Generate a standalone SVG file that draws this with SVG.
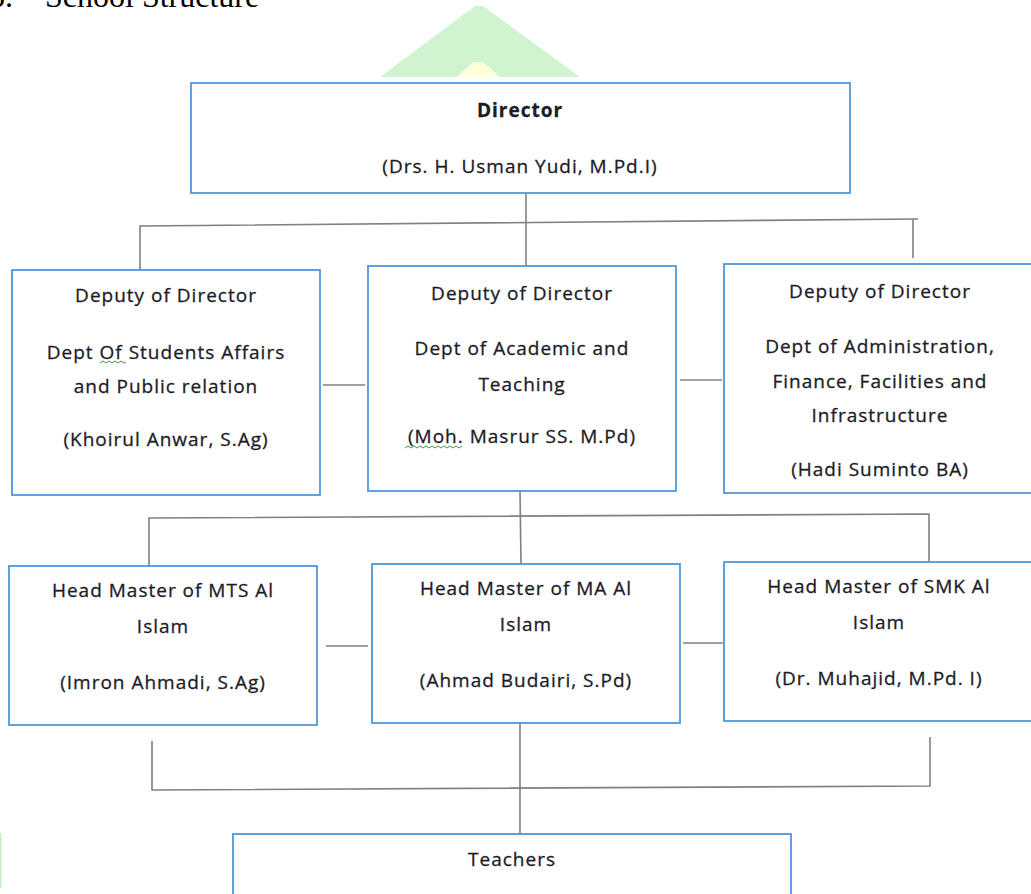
<svg xmlns="http://www.w3.org/2000/svg" width="1031" height="894" viewBox="0 0 1031 894">
<style>
.box{fill:#ffffff;stroke:#4f97dc;stroke-width:1.8}
.t{font-family:"Open Sans","Noto Sans",sans-serif;font-size:19px;letter-spacing:1px;fill:#1c1c28;stroke:#1c1c28;stroke-width:0.3;text-anchor:middle}
.b{font-weight:bold}
.c{fill:none;stroke:#808080;stroke-width:1.6}
.sq{fill:none;stroke:#3a9a3a;stroke-width:1}
.title{font-family:"Liberation Serif","Times New Roman",serif;font-size:32px;fill:#000}
</style>
<rect width="1031" height="894" fill="#ffffff"/>
<g id="watermark">
<polygon points="380,77 475,6 483,6 580,77" fill="#d0f4d0"/>
<polygon points="457,77 473,62 483,62 500,77" fill="#ffffd8"/>
<rect x="0" y="833" width="1.5" height="55" fill="#c8f0c8"/>
</g>
<g id="title">
<text class="title" x="-11" y="7">5.</text>
<text class="title" x="45" y="7">School Structure</text>
</g>
<g id="connectors">
<path class="c" d="M526,193 L526,266"/>
<path class="c" d="M140,270 L140,226 L918,219"/>
<path class="c" d="M913,219 L913,258"/>
<path class="c" d="M323,385 L365,385"/>
<path class="c" d="M680,380 L722,380"/>
<path class="c" d="M520,491 L521,564"/>
<path class="c" d="M149,566 L149,518 L929,514 L929,562"/>
<path class="c" d="M326,646 L368,646"/>
<path class="c" d="M683,643 L723,643"/>
<path class="c" d="M152,741 L152,790 L930,786 L930,737"/>
<path class="c" d="M520,723 L520,834"/>
</g>
<g id="director">
<rect class="box" x="191" y="83" width="659" height="110"/>
<text class="t b" x="520" y="117">Director</text>
<text class="t" x="520" y="173">(Drs. H. Usman Yudi, M.Pd.I)</text>
</g>
<g id="deputy-students">
<rect class="box" x="12" y="270" width="308" height="225"/>
<text class="t" x="166" y="302">Deputy of Director</text>
<text class="t" x="166" y="359">Dept Of Students Affairs</text>
<text class="t" x="166" y="393">and Public relation</text>
<text class="t" x="166" y="446">(Khoirul Anwar, S.Ag)</text>
<path class="sq" d="M100,363 l3,-2 l3,2 l3,-2 l3,2 l3,-2 l3,2 l3,-2 l3,2 l2,-1"/>
</g>
<g id="deputy-academic">
<rect class="box" x="368" y="266" width="308" height="225"/>
<text class="t" x="522" y="300">Deputy of Director</text>
<text class="t" x="522" y="355">Dept of Academic and</text>
<text class="t" x="522" y="391">Teaching</text>
<text class="t" x="522" y="443">(Moh. Masrur SS. M.Pd)</text>
<path class="sq" d="M405,448 l3,-2 l3,2 l3,-2 l3,2 l3,-2 l3,2 l3,-2 l3,2 l3,-2 l3,2 l3,-2 l3,2 l3,-2 l3,2 l3,-2 l3,2 l3,-2 l3,2 l3,-2"/>
</g>
<g id="deputy-administration">
<rect class="box" x="724" y="264" width="312" height="229"/>
<text class="t" x="880" y="298">Deputy of Director</text>
<text class="t" x="880" y="353">Dept of Administration,</text>
<text class="t" x="880" y="388">Finance, Facilities and</text>
<text class="t" x="880" y="422">Infrastructure</text>
<text class="t" x="880" y="476">(Hadi Suminto BA)</text>
</g>
<g id="head-mts">
<rect class="box" x="9" y="566" width="308" height="159"/>
<text class="t" x="163" y="597">Head Master of MTS Al</text>
<text class="t" x="163" y="633">Islam</text>
<text class="t" x="163" y="689">(Imron Ahmadi, S.Ag)</text>
</g>
<g id="head-ma">
<rect class="box" x="372" y="564" width="308" height="159"/>
<text class="t" x="526" y="595">Head Master of MA Al</text>
<text class="t" x="526" y="631">Islam</text>
<text class="t" x="526" y="687">(Ahmad Budairi, S.Pd)</text>
</g>
<g id="head-smk">
<rect class="box" x="724" y="562" width="312" height="159"/>
<text class="t" x="879" y="593">Head Master of SMK Al</text>
<text class="t" x="879" y="629">Islam</text>
<text class="t" x="879" y="685">(Dr. Muhajid, M.Pd. I)</text>
</g>
<g id="teachers">
<rect class="box" x="233" y="834" width="558" height="80"/>
<text class="t" x="512" y="866">Teachers</text>
</g>
</svg>
